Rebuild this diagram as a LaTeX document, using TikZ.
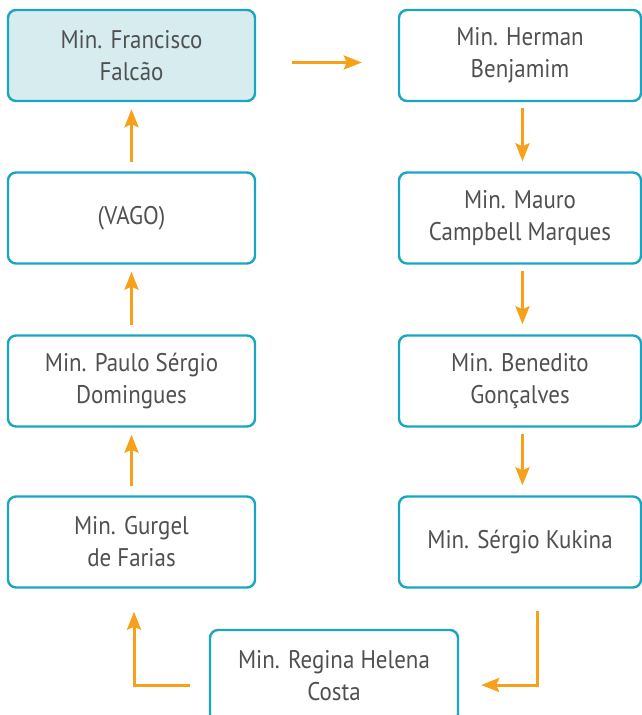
\documentclass[tikz,border=0pt]{standalone}
\usepackage{fontspec}
\setmainfont[FakeStretch=0.9]{PT Sans}
\usetikzlibrary{arrows.meta}
\definecolor{boxline}{HTML}{1AA6C3}
\definecolor{boxfill}{HTML}{D7ECEF}
\definecolor{arrowc}{HTML}{F7A11A}
\definecolor{txt}{HTML}{505050}
\tikzset{
  minbox/.style={draw=boxline, line width=2.4pt, rounded corners=8pt, fill=white,
    minimum height=91pt, inner sep=0pt, align=center, text=txt,
    font=\fontsize{25.5}{32}\selectfont},
  leftbox/.style={minbox, minimum width=247pt},
  rightbox/.style={minbox, minimum width=242pt},
  arr/.style={draw=arrowc, line width=3pt, -{Stealth[length=18pt,width=14pt,inset=3pt]}}
}
\begin{document}
\begin{tikzpicture}[x=1pt,y=-1pt]
\useasboundingbox (0,0) rectangle (642,715);
\node[leftbox, fill=boxfill] (F) at (131.5,55.5) {Min. Francisco\\Falcão};
\node[leftbox] (V) at (131.5,218) {(VAGO)};
\node[leftbox] (P) at (131.5,381) {Min. Paulo Sérgio\\Domingues};
\node[leftbox] (G) at (131.5,542) {Min. Gurgel\\de Farias};
\node[rightbox] (H) at (520,55.5) {Min. Herman\\Benjamim};
\node[rightbox] (M) at (520,218) {Min. Mauro\\Campbell Marques};
\node[rightbox] (B) at (520,381) {Min. Benedito\\Gonçalves};
\node[rightbox] (K) at (520,542) {Min. Sérgio Kukina};
\node[minbox, minimum width=248pt, minimum height=92pt] (R) at (334,676) {Min. Regina Helena\\Costa};
% connectors
\draw[arr] ([yshift=-7pt,xshift=36pt]F.east) -- ([yshift=-7pt,xshift=-36pt]H.west);
\draw[arr] ([xshift=2.5pt,yshift=-6pt]H.south) -- ([xshift=2.5pt,yshift=10pt]M.north);
\draw[arr] ([xshift=2.5pt,yshift=-6pt]M.south) -- ([xshift=2.5pt,yshift=10pt]B.north);
\draw[arr] ([xshift=2.5pt,yshift=-6pt]B.south) -- ([xshift=2.5pt,yshift=10pt]K.north);
\draw[arr] ([xshift=17pt,yshift=-22pt]K.south) |- ([xshift=22pt,yshift=-9pt]R.east);
\draw[arr] ([xshift=-19pt,yshift=-9pt]R.west) -| ([xshift=2.5pt,yshift=-23pt]G.south);
\draw[arr] ([yshift=9pt]G.north) -- ([yshift=-7pt]P.south);
\draw[arr] ([yshift=9pt]P.north) -- ([yshift=-7pt]V.south);
\draw[arr] ([yshift=9pt]V.north) -- ([yshift=-7pt]F.south);
\end{tikzpicture}
\end{document}
